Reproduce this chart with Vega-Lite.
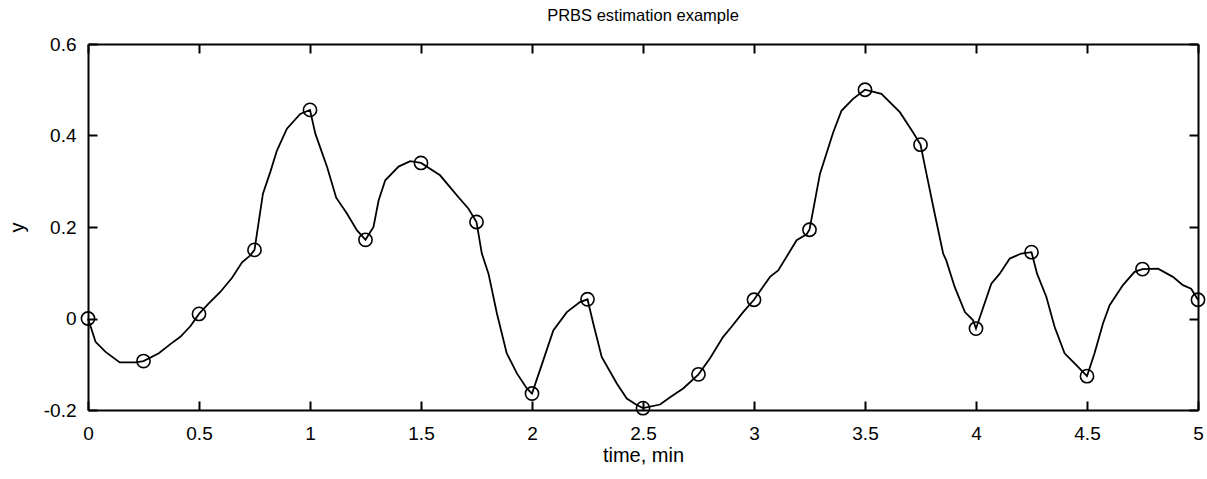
{
  "$schema": "https://vega.github.io/schema/vega-lite/v6.json",
  "autosize": "none",
  "padding": {"left": 88, "top": 44, "right": 9, "bottom": 69},
  "width": 1110,
  "height": 366,
  "background": "white",
  "title": {"text": "PRBS estimation example", "font": "Liberation Sans", "fontSize": 16.5, "fontWeight": "normal", "color": "black", "anchor": "middle", "offset": 11},
  "config": {
    "view": {"stroke": null},
    "axis": {"domainColor": "black", "domainWidth": 2, "tickColor": "black", "tickWidth": 2, "grid": false, "labelFont": "Liberation Sans", "labelFontSize": 19, "labelColor": "black", "titleFont": "Liberation Sans", "titleFontSize": 20, "titleFontWeight": "normal", "titleColor": "black"}
  },
  "datasets": {
    "line": [
      {"t": 0, "y": 0}, {"t": 0.034, "y": -0.051}, {"t": 0.079, "y": -0.073}, {"t": 0.143, "y": -0.096}, {"t": 0.214, "y": -0.096},
      {"t": 0.25, "y": -0.093}, {"t": 0.319, "y": -0.076}, {"t": 0.371, "y": -0.056}, {"t": 0.416, "y": -0.04}, {"t": 0.461, "y": -0.017},
      {"t": 0.5, "y": 0.01}, {"t": 0.544, "y": 0.033}, {"t": 0.596, "y": 0.058}, {"t": 0.649, "y": 0.089}, {"t": 0.694, "y": 0.123},
      {"t": 0.731, "y": 0.138}, {"t": 0.75, "y": 0.15}, {"t": 0.788, "y": 0.273}, {"t": 0.821, "y": 0.32}, {"t": 0.851, "y": 0.367},
      {"t": 0.896, "y": 0.415}, {"t": 0.956, "y": 0.447}, {"t": 1.0, "y": 0.456}, {"t": 1.024, "y": 0.404}, {"t": 1.077, "y": 0.331},
      {"t": 1.118, "y": 0.264}, {"t": 1.167, "y": 0.229}, {"t": 1.211, "y": 0.193}, {"t": 1.25, "y": 0.172}, {"t": 1.286, "y": 0.2},
      {"t": 1.309, "y": 0.258}, {"t": 1.339, "y": 0.302}, {"t": 1.399, "y": 0.332}, {"t": 1.451, "y": 0.344}, {"t": 1.5, "y": 0.34},
      {"t": 1.586, "y": 0.313}, {"t": 1.624, "y": 0.291}, {"t": 1.669, "y": 0.265}, {"t": 1.714, "y": 0.24}, {"t": 1.75, "y": 0.211},
      {"t": 1.774, "y": 0.142}, {"t": 1.804, "y": 0.098}, {"t": 1.842, "y": 0.011}, {"t": 1.886, "y": -0.076}, {"t": 1.932, "y": -0.12},
      {"t": 1.977, "y": -0.153}, {"t": 2.0, "y": -0.164}, {"t": 2.051, "y": -0.091}, {"t": 2.096, "y": -0.026}, {"t": 2.157, "y": 0.014},
      {"t": 2.216, "y": 0.036}, {"t": 2.25, "y": 0.042}, {"t": 2.276, "y": -0.011}, {"t": 2.314, "y": -0.084}, {"t": 2.382, "y": -0.142},
      {"t": 2.427, "y": -0.175}, {"t": 2.472, "y": -0.189}, {"t": 2.5, "y": -0.196}, {"t": 2.577, "y": -0.188}, {"t": 2.622, "y": -0.172},
      {"t": 2.681, "y": -0.153}, {"t": 2.75, "y": -0.122}, {"t": 2.802, "y": -0.087}, {"t": 2.861, "y": -0.04}, {"t": 2.899, "y": -0.018},
      {"t": 2.951, "y": 0.014}, {"t": 3.0, "y": 0.041}, {"t": 3.072, "y": 0.091}, {"t": 3.109, "y": 0.105}, {"t": 3.192, "y": 0.171},
      {"t": 3.237, "y": 0.184}, {"t": 3.25, "y": 0.194}, {"t": 3.297, "y": 0.316}, {"t": 3.357, "y": 0.407}, {"t": 3.394, "y": 0.454},
      {"t": 3.446, "y": 0.48}, {"t": 3.5, "y": 0.5}, {"t": 3.574, "y": 0.491}, {"t": 3.657, "y": 0.451}, {"t": 3.716, "y": 0.407},
      {"t": 3.75, "y": 0.38}, {"t": 3.777, "y": 0.316}, {"t": 3.814, "y": 0.229}, {"t": 3.852, "y": 0.142}, {"t": 3.866, "y": 0.127},
      {"t": 3.904, "y": 0.069}, {"t": 3.95, "y": 0.014}, {"t": 3.987, "y": -0.004}, {"t": 4.0, "y": -0.022}, {"t": 4.069, "y": 0.076},
      {"t": 4.107, "y": 0.098}, {"t": 4.152, "y": 0.131}, {"t": 4.204, "y": 0.142}, {"t": 4.25, "y": 0.145}, {"t": 4.275, "y": 0.098},
      {"t": 4.317, "y": 0.047}, {"t": 4.354, "y": -0.018}, {"t": 4.399, "y": -0.076}, {"t": 4.452, "y": -0.102}, {"t": 4.5, "y": -0.126},
      {"t": 4.534, "y": -0.076}, {"t": 4.572, "y": -0.011}, {"t": 4.602, "y": 0.029}, {"t": 4.662, "y": 0.073}, {"t": 4.714, "y": 0.102},
      {"t": 4.75, "y": 0.108}, {"t": 4.82, "y": 0.109}, {"t": 4.887, "y": 0.091}, {"t": 4.932, "y": 0.073}, {"t": 4.969, "y": 0.065},
      {"t": 5.0, "y": 0.041}
    ],
    "pts": [
      {"t": 0, "y": 0}, {"t": 0.25, "y": -0.093}, {"t": 0.5, "y": 0.01}, {"t": 0.75, "y": 0.15}, {"t": 1.0, "y": 0.456},
      {"t": 1.25, "y": 0.172}, {"t": 1.5, "y": 0.34}, {"t": 1.75, "y": 0.211}, {"t": 2.0, "y": -0.164}, {"t": 2.25, "y": 0.042},
      {"t": 2.5, "y": -0.196}, {"t": 2.75, "y": -0.122}, {"t": 3.0, "y": 0.041}, {"t": 3.25, "y": 0.194}, {"t": 3.5, "y": 0.5},
      {"t": 3.75, "y": 0.38}, {"t": 4.0, "y": -0.022}, {"t": 4.25, "y": 0.145}, {"t": 4.5, "y": -0.126}, {"t": 4.75, "y": 0.108},
      {"t": 5.0, "y": 0.041}
    ]
  },
  "layer": [
    {
      "data": {"name": "line"},
      "mark": {"type": "line", "color": "black", "strokeWidth": 1.8, "interpolate": "linear"},
      "encoding": {
        "x": {"field": "t", "type": "quantitative", "scale": {"domain": [0, 5], "nice": false, "zero": false},
          "axis": {"orient": "bottom", "title": "time, min", "values": [0, 0.5, 1, 1.5, 2, 2.5, 3, 3.5, 4, 4.5, 5], "format": "~g", "tickSize": -9, "labelPadding": 23, "labelFlush": false, "labelOverlap": false, "titlePadding": 2}},
        "y": {"field": "y", "type": "quantitative", "scale": {"domain": [-0.2, 0.6], "nice": false, "zero": false},
          "axis": {"orient": "left", "title": "y", "values": [-0.2, 0, 0.2, 0.4, 0.6], "format": "~g", "tickSize": -9, "labelPadding": 21, "labelFlush": false, "labelOverlap": false, "labelExpr": "replace(datum.label, '\u2212', '-')", "titlePadding": 16}}
      }
    },
    {
      "data": {"name": "pts"},
      "mark": {"type": "point", "shape": "circle", "filled": false, "color": "black", "strokeWidth": 1.6, "size": 175, "opacity": 1},
      "encoding": {
        "x": {"field": "t", "type": "quantitative",
          "axis": {"orient": "top", "title": null, "labels": false, "values": [0, 0.5, 1, 1.5, 2, 2.5, 3, 3.5, 4, 4.5, 5], "tickSize": -9}},
        "y": {"field": "y", "type": "quantitative",
          "axis": {"orient": "right", "title": null, "labels": false, "values": [-0.2, 0, 0.2, 0.4, 0.6], "tickSize": -9}}
      }
    }
  ],
  "resolve": {"axis": {"x": "independent", "y": "independent"}}
}
